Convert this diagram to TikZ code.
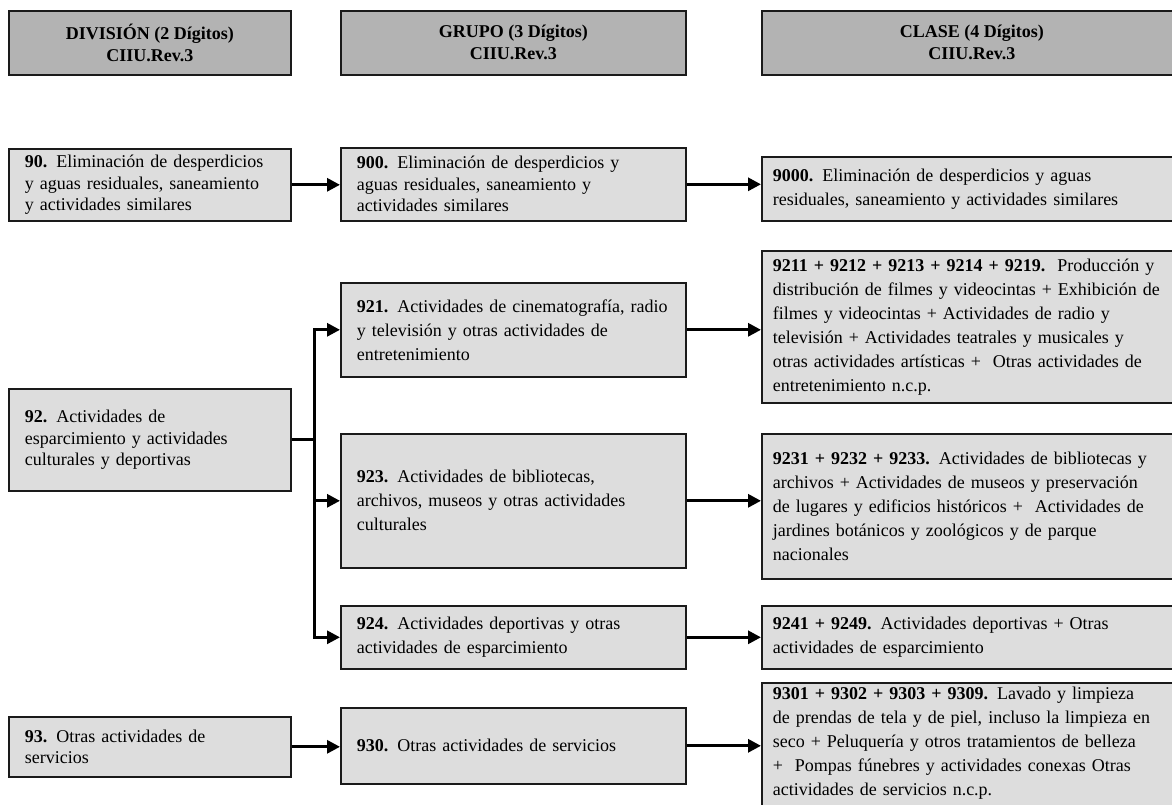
\documentclass[tikz,border=0pt]{standalone}
\usepackage{fontspec}
\setmainfont{Liberation Serif}
\usetikzlibrary{arrows.meta}

\definecolor{headgray}{HTML}{B3B3B3}
\definecolor{boxgray}{HTML}{DDDDDD}
\definecolor{edgeblack}{HTML}{1A1A1A}

\begin{document}
\begin{tikzpicture}[x=1pt, y=-1pt,
  box/.style={draw=edgeblack, line width=1.6pt, fill=boxgray, anchor=north west, align=left, inner ysep=2pt, font=\fontsize{18}{24}\selectfont},
  headbox/.style={box, fill=headgray, align=center, font=\bfseries\fontsize{18}{22}\selectfont},
  divbox/.style={box, inner xsep=16pt, text width=250pt},
  grpbox/.style={box, inner xsep=16pt, text width=313pt},
  clsbox/.style={box, inner xsep=11pt, text width=398pt},
  tight/.style={font=\fontsize{18}{21.5}\selectfont},
  link/.style={draw=black, line width=3pt, -{Triangle[length=13pt,width=13pt]}},
  trunk/.style={draw=black, line width=3pt}]
\useasboundingbox (0,0) rectangle (1172,805);
\clip (0,0) rectangle (1172,805);

\node[headbox, minimum width=282pt, minimum height=64pt] (hdiv) at (8,10) {DIVISIÓN (2 Dígitos)\\CIIU.Rev.3};
\node[headbox, minimum width=345pt, minimum height=64pt] (hgrp) at (340,10) {GRUPO (3 Dígitos)\\CIIU.Rev.3};
\node[headbox, minimum width=420pt, minimum height=64pt] (hcls) at (761,10) {CLASE (4 Dígitos)\\CIIU.Rev.3};

\node[divbox, tight, minimum height=72pt] (d90) at (8,148) {\textbf{90.} Eliminación de desperdicios\\y aguas residuales, saneamiento\\y actividades similares};
\node[grpbox, tight, minimum height=73pt] (g900) at (340,147) {\textbf{900.} Eliminación de desperdicios y\\aguas residuales, saneamiento y\\actividades similares};
\node[clsbox, minimum height=64pt] (c9000) at (761,156) {\textbf{9000.} Eliminación de desperdicios y aguas\\residuales, saneamiento y actividades similares};

\node[divbox, tight, minimum height=102pt] (d92) at (8,388) {\textbf{92.} Actividades de\\esparcimiento y actividades\\culturales y deportivas};
\node[grpbox, minimum height=94pt] (g921) at (340,282) {\textbf{921.} Actividades de cinematografía, radio\\y televisión y otras actividades de\\entretenimiento};
\node[clsbox, minimum height=152pt] (c9211) at (761,250) {\textbf{9211 + 9212 + 9213 + 9214 + 9219.}\ \ Producción y\\distribución de filmes y videocintas + Exhibición de\\filmes y videocintas + Actividades de radio y\\televisión + Actividades teatrales y musicales y\\otras actividades artísticas + \ Otras actividades de\\entretenimiento n.c.p.};

\node[grpbox, minimum height=134pt] (g923) at (340,433) {\textbf{923.} Actividades de bibliotecas,\\archivos, museos y otras actividades\\culturales};
\node[clsbox, minimum height=145pt] (c9231) at (761,433) {\textbf{9231 + 9232 + 9233.} Actividades de bibliotecas y\\archivos + Actividades de museos y preservación\\de lugares y edificios históricos + \ Actividades de\\jardines botánicos y zoológicos y de parque\\nacionales};

\node[grpbox, minimum height=63pt] (g924) at (340,605) {\textbf{924.} Actividades deportivas y otras\\actividades de esparcimiento};
\node[clsbox, minimum height=63pt] (c9241) at (761,605) {\textbf{9241 + 9249.} Actividades deportivas + Otras\\actividades de esparcimiento};

\node[divbox, tight, minimum height=60pt] (d93) at (8,716) {\textbf{93.} Otras actividades de\\servicios};
\node[grpbox, minimum height=76pt] (g930) at (340,707) {\textbf{930.} Otras actividades de servicios};
\node[clsbox, inner ysep=4pt] (c9301) at (761,682) {\textbf{9301 + 9302 + 9303 + 9309.} Lavado y limpieza\\de prendas de tela y de piel, incluso la limpieza en\\seco + Peluquería y otros tratamientos de belleza\\+ \ Pompas fúnebres y actividades conexas Otras\\actividades de servicios n.c.p.\\[30pt]\strut};

\draw[link] (d90.east) -- (d90.east -| g900.west);
\draw[link] (g900.east) -- (g900.east -| c9000.west);

\draw[trunk] (d92.east) -- ++(23,0) coordinate (fork);
\draw[link] (fork) |- (g921.west);
\draw[link] (fork) |- (g923.west);
\draw[link] (fork) |- (g924.west);
\draw[link] (g921.east) -- (g921.east -| c9211.west);
\draw[link] (g923.east) -- (g923.east -| c9231.west);
\draw[link] (g924.east) -- (g924.east -| c9241.west);

\draw[link] (d93.east) -- (d93.east -| g930.west);
\draw[link] (g930.east) -- (g930.east -| c9301.west);
\end{tikzpicture}
\end{document}
